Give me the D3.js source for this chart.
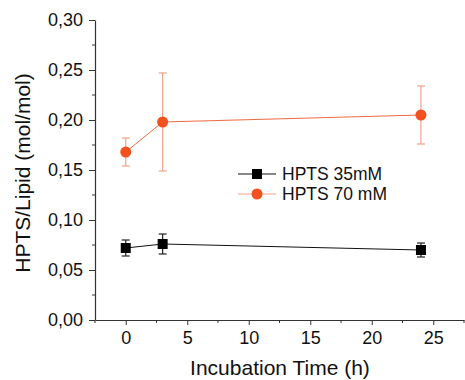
<!DOCTYPE html>
<html>
<head>
<meta charset="utf-8">
<script src="https://cdn.jsdelivr.net/npm/d3@7"></script>
<style>
  body { margin: 0; background: #fff; }
  svg { display: block; font-family: 'Liberation Sans', Arial, sans-serif; }
</style>
</head>
<body>
<svg id="chart" width="465" height="380"></svg>
<script>
const hours = [0, 3, 24]
const hpts35 = [0.072, 0.076, 0.070]
const hpts35Err = [0.008, 0.010, 0.007]
const hpts70 = [0.168, 0.198, 0.205]
const hpts70Err = [0.014, 0.049, 0.029]
const seriesNames = ['HPTS 35mM', 'HPTS 70 mM']
const xTicks = [0, 5, 10, 15, 20, 25]
const yTicks = [0, 0.05, 0.1, 0.15, 0.2, 0.25, 0.3]

const padLeft = 95
const padTop = 20
const padBottom = 320
const padRight = 464

const svg = d3.select('#chart')

const x = d3.scaleLinear().domain([-2.5, 27.5]).range([padLeft, padRight])
const y = d3.scaleLinear().domain([0, 0.3]).range([padBottom, padTop])

const fmt = (d) => d3.format('.2f')(d).replace('.', ',')

// minor ticks
const xMinor = d3.range(-2.5, 27.6, 2.5).filter((d) => !xTicks.includes(d))
const yMinor = d3.range(0.025, 0.3, 0.05)

const xaxis = svg
  .append('g')
  .attr('transform', `translate(0, ${padBottom})`)
  .call(d3.axisBottom(x).tickValues(xTicks).tickSize(5).tickPadding(6).tickSizeOuter(0))
xaxis.select('.domain').attr('stroke', '#333').attr('stroke-width', 1.2)
xaxis.selectAll('.tick line').attr('stroke', '#333')
xaxis.selectAll('text').attr('font-size', 18).attr('fill', '#111')

svg
  .append('g')
  .attr('transform', `translate(0, ${padBottom})`)
  .selectAll('line')
  .data(xMinor)
  .join('line')
  .attr('x1', (d) => x(d))
  .attr('x2', (d) => x(d))
  .attr('y1', 0)
  .attr('y2', 3)
  .attr('stroke', '#333')

const yaxis = svg
  .append('g')
  .attr('transform', `translate(${padLeft}, 0)`)
  .call(d3.axisLeft(y).tickValues(yTicks).tickFormat(fmt).tickSize(6).tickPadding(6).tickSizeOuter(0))
yaxis.select('.domain').attr('stroke', '#333').attr('stroke-width', 1.2)
yaxis.selectAll('.tick line').attr('stroke', '#333')
yaxis.selectAll('text').attr('font-size', 18).attr('fill', '#111')

svg
  .append('g')
  .attr('transform', `translate(${padLeft}, 0)`)
  .selectAll('line')
  .data(yMinor)
  .join('line')
  .attr('x1', -3)
  .attr('x2', 0)
  .attr('y1', (d) => y(d))
  .attr('y2', (d) => y(d))
  .attr('stroke', '#333')

svg
  .append('text')
  .attr('x', 280)
  .attr('y', 375)
  .attr('text-anchor', 'middle')
  .attr('font-size', 21)
  .attr('fill', '#111')
  .text('Incubation Time (h)')

svg
  .append('text')
  .attr('transform', `translate(30, 173) rotate(-90)`)
  .attr('text-anchor', 'middle')
  .attr('font-size', 21)
  .attr('fill', '#111')
  .text('HPTS/Lipid (mol/mol)')

const series = [
  { vals: hpts35, err: hpts35Err, line: '#111', errColor: '#222', fill: '#000', shape: 'square' },
  { vals: hpts70, err: hpts70Err, line: '#f26a43', errColor: '#f4a088', fill: '#f2501f', shape: 'circle' },
]

series.forEach((s) => {
  const pts = hours.map((t, i) => ({ t, v: s.vals[i], e: s.err[i] }))
  const g = svg.append('g')

  g.append('path')
    .datum(pts)
    .attr('fill', 'none')
    .attr('stroke', s.line)
    .attr('stroke-width', 1)
    .attr('d', d3.line().x((d) => x(d.t)).y((d) => y(d.v)))

  const eb = g.selectAll('.err').data(pts).join('g').attr('stroke', s.errColor).attr('stroke-width', 1.2)
  eb.append('line')
    .attr('x1', (d) => x(d.t)).attr('x2', (d) => x(d.t))
    .attr('y1', (d) => y(d.v + d.e)).attr('y2', (d) => y(d.v - d.e))
  eb.append('line')
    .attr('x1', (d) => x(d.t) - 4).attr('x2', (d) => x(d.t) + 4)
    .attr('y1', (d) => y(d.v + d.e)).attr('y2', (d) => y(d.v + d.e))
  eb.append('line')
    .attr('x1', (d) => x(d.t) - 4).attr('x2', (d) => x(d.t) + 4)
    .attr('y1', (d) => y(d.v - d.e)).attr('y2', (d) => y(d.v - d.e))

  if (s.shape === 'square') {
    g.selectAll('.pt').data(pts).join('rect')
      .attr('x', (d) => x(d.t) - 5).attr('y', (d) => y(d.v) - 5)
      .attr('width', 10).attr('height', 10).attr('fill', s.fill)
  } else {
    g.selectAll('.pt').data(pts).join('circle')
      .attr('cx', (d) => x(d.t)).attr('cy', (d) => y(d.v))
      .attr('r', 5.5).attr('fill', s.fill)
  }
})

// legend
const legend = svg.append('g').attr('transform', 'translate(238, 174)')
series.forEach((s, i) => {
  const row = legend.append('g').attr('transform', `translate(0, ${i * 20})`)
  row.append('line').attr('x1', 0).attr('x2', 38).attr('stroke', s.shape === 'circle' ? '#f4a088' : '#111').attr('stroke-width', 1)
  if (s.shape === 'square') {
    row.append('rect').attr('x', 14).attr('y', -5).attr('width', 10).attr('height', 10).attr('fill', s.fill)
  } else {
    row.append('circle').attr('cx', 19).attr('cy', 0).attr('r', 5.5).attr('fill', s.fill)
  }
  row.append('text').attr('x', 44).attr('y', 6).attr('font-size', 17.5).attr('fill', '#111').text(seriesNames[i])
})
</script>
</body>
</html>
